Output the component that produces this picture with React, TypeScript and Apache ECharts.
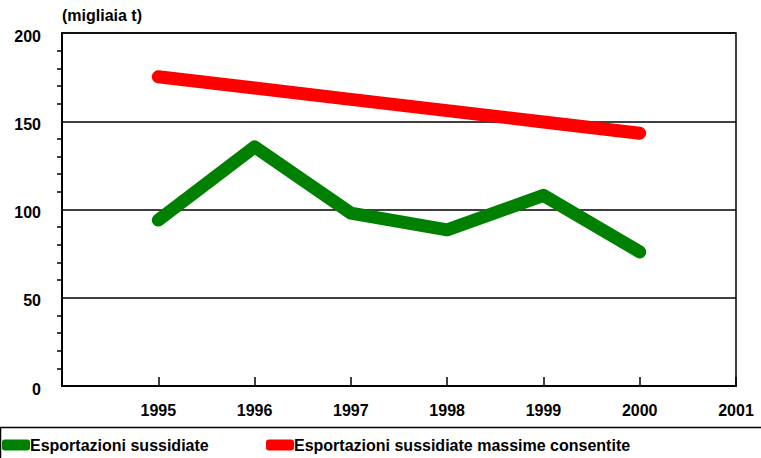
import React, { useEffect, useRef } from "react";
import * as echarts from "echarts";

const years = [1995, 1996, 1997, 1998, 1999, 2000];
const sussidiate = [94, 135.5, 98, 88.5, 108, 76];
const massime = [175.2, 168.8, 162.4, 156, 149.6, 143.2];
const seriesNames = ["Esportazioni sussidiate", "Esportazioni sussidiate massime consentite"];
const unitLabel = "(migliaia t)";

const FONT = "Liberation Sans, Arial, sans-serif";

export default function App() {
  const ref = useRef<HTMLDivElement>(null);
  useEffect(() => {
    if (!ref.current) return;
    const chart = echarts.init(ref.current, null, { renderer: "svg" });
    const legendText = { color: "#000", fontWeight: "bold", fontSize: 16, fontFamily: FONT, padding: [0, 0, 0, -5] };
    chart.setOption({
      animation: false,
      textStyle: { fontFamily: FONT },
      grid: {
        left: 62,
        right: 25,
        top: 33,
        bottom: 72,
        show: true,
        borderColor: "#000",
        borderWidth: 1.5,
        backgroundColor: "transparent",
      },
      xAxis: {
        type: "value",
        min: 1994,
        max: 2001,
        interval: 1,
        axisLine: { show: true, onZero: false, lineStyle: { color: "#000", width: 2 } },
        axisTick: { show: true, inside: true, length: 9, lineStyle: { color: "#000", width: 1.5 } },
        splitLine: { show: false },
        axisLabel: {
          margin: 16,
          color: "#000",
          fontWeight: "bold",
          fontSize: 16,
          fontFamily: FONT,
          formatter: (v: number) => (v === 1994 ? "" : String(v)),
        },
      },
      yAxis: {
        type: "value",
        min: 0,
        max: 200,
        interval: 50,
        axisLine: { show: true, lineStyle: { color: "#000", width: 2 } },
        axisTick: { show: false },
        minorTick: { show: true, splitNumber: 5, length: 5, lineStyle: { color: "#000", width: 1.5 } },
        splitLine: { show: true, lineStyle: { color: "#000", width: 1.5 } },
        axisLabel: {
          margin: 21,
          color: "#000",
          fontWeight: "bold",
          fontSize: 16,
          fontFamily: FONT,
          verticalAlign: "top",
          padding: [-5, 0, 0, 0],
        },
      },
      legend: [
        {
          left: 2,
          top: 437,
          data: [seriesNames[0]],
          icon: "roundRect",
          itemWidth: 28,
          itemHeight: 11,
          padding: 0,
          textStyle: legendText,
        },
        {
          left: 266,
          top: 437,
          data: [seriesNames[1]],
          icon: "roundRect",
          itemWidth: 28,
          itemHeight: 11,
          padding: 0,
          textStyle: legendText,
        },
      ],
      graphic: [
        {
          type: "text",
          left: 62,
          top: 7,
          style: { text: unitLabel, fill: "#000", font: `bold 16px ${FONT}` },
        },
        {
          type: "rect",
          shape: { x: 0.5, y: 427.5, width: 780, height: 60 },
          style: { fill: "none", stroke: "#000", lineWidth: 1.5 },
          silent: true,
        },
      ],
      series: [
        {
          name: seriesNames[0],
          type: "line",
          data: years.map((y, i) => [y, sussidiate[i]]),
          showSymbol: false,
          symbol: "none",
          color: "#008000",
          lineStyle: { color: "#008000", width: 13, cap: "round", join: "round" },
        },
        {
          name: seriesNames[1],
          type: "line",
          data: years.map((y, i) => [y, massime[i]]),
          showSymbol: false,
          symbol: "none",
          color: "#ff0000",
          lineStyle: { color: "#ff0000", width: 13, cap: "round", join: "round" },
        },
      ],
    });
    return () => chart.dispose();
  }, []);
  return (
    <div
      ref={ref}
      style={{ position: "absolute", left: 0, top: 0, width: 761, height: 458, background: "#fff" }}
    />
  );
}
